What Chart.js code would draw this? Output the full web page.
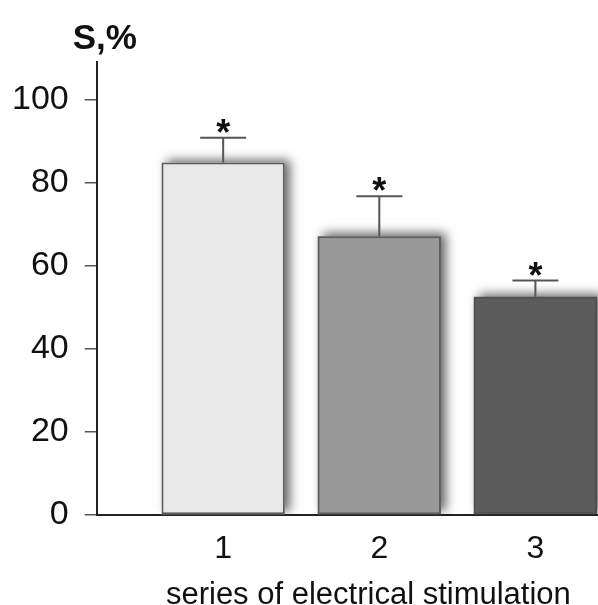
<!DOCTYPE html>
<html>
<head>
<meta charset="utf-8">
<script src="https://cdn.jsdelivr.net/npm/chart.js@4.4.1/dist/chart.umd.min.js"></script>
<style>
  html, body { margin: 0; padding: 0; background: #fff; }
  #wrap { width: 598px; height: 605px; overflow: hidden; position: relative; }
  #box { width: 640px; height: 620px; }
</style>
</head>
<body>
<div id="wrap"><div id="box"><canvas id="c"></canvas></div></div>
<script>
// data
var categories = ["1", "2", "3"];
var positions = [1, 2, 3];
var means = [84.8, 67.1, 52.5];
var errTops = [90.8, 76.7, 56.4];
var marks = ["*", "*", "*"];
var yTicks = [0, 20, 40, 60, 80, 100];

var fillColors = ["#e8e8e8", "#999999", "#5b5b5b"];
var edgeColors = ["#5a5a5a", "#5e5e5e", "#505050"];
var FONT = "'Liberation Sans', Arial, Helvetica, sans-serif";

// soft drop shadow behind each bar (the bar element clips its own shadow)
var shadowPlugin = {
    id: "barShadow",
    beforeDatasetsDraw: function (chart) {
        var ctx = chart.ctx;
        var area = chart.chartArea;
        ctx.save();
        ctx.beginPath();
        ctx.rect(area.left, area.top - 20, area.right - area.left, area.bottom - area.top + 20);
        ctx.clip();
        ctx.shadowColor = "rgba(0,0,0,0.6)";
        ctx.shadowBlur = 10;
        ctx.shadowOffsetX = 5;
        ctx.shadowOffsetY = -3;
        chart.getDatasetMeta(0).data.forEach(function (bar, i) {
            var p = bar.getProps(["x", "y", "base", "width"], true);
            ctx.fillStyle = fillColors[i];
            ctx.fillRect(p.x - p.width / 2, p.y, p.width, p.base - p.y);
        });
        ctx.restore();
    }
};

var errorPlugin = {
    id: "errorBars",
    afterDatasetsDraw: function (chart) {
        var ctx = chart.ctx;
        var xs = chart.scales.x, ys = chart.scales.y;
        ctx.save();
        ctx.strokeStyle = "#555";
        ctx.lineWidth = 2;
        ctx.fillStyle = "#111";
        ctx.font = "bold 36px " + FONT;
        ctx.textAlign = "center";
        ctx.textBaseline = "alphabetic";
        positions.forEach(function (p, i) {
            var x = xs.getPixelForValue(p);
            var y0 = ys.getPixelForValue(means[i]);
            var y1 = ys.getPixelForValue(errTops[i]);
            ctx.beginPath();
            ctx.moveTo(x, y0);
            ctx.lineTo(x, y1);
            ctx.moveTo(x - 23, y1);
            ctx.lineTo(x + 23, y1);
            ctx.stroke();
            ctx.fillText(marks[i], x, y1 + 7);
        });
        ctx.restore();
    }
};

var unitPlugin = {
    id: "unitLabel",
    afterDraw: function (chart) {
        var ctx = chart.ctx;
        ctx.save();
        ctx.fillStyle = "#111";
        ctx.font = "bold 35px " + FONT;
        ctx.textAlign = "center";
        ctx.textBaseline = "alphabetic";
        ctx.fillText("S,%", chart.chartArea.left + 8, 49);
        ctx.restore();
    }
};

new Chart(document.getElementById("c"), {
    type: "bar",
    data: {
        datasets: [{
            label: "S",
            data: positions.map(function (p, i) { return {x: p, y: means[i]}; }),
            backgroundColor: fillColors,
            borderColor: edgeColors,
            borderWidth: 2,
            borderSkipped: false,
            barPercentage: 0.79,
            categoryPercentage: 1
        }]
    },
    options: {
        responsive: true,
        maintainAspectRatio: false,
        animation: false,
        layout: { padding: { top: 62, left: -4, right: 0, bottom: 9 } },
        plugins: {
            legend: { display: false },
            tooltip: { enabled: false }
        },
        scales: {
            x: {
                type: "linear",
                offset: false,
                min: 0.19,
                max: 3.67,
                afterBuildTicks: function (scale) {
                    scale.ticks = positions.map(function (v) { return {value: v}; });
                },
                ticks: {
                    color: "#111",
                    padding: 18,
                    maxRotation: 0,
                    font: { family: FONT, size: 32, lineHeight: 1 },
                    callback: function (v) { return categories[positions.indexOf(v)]; }
                },
                grid: { display: false, drawTicks: false, offset: false },
                border: { display: true, color: "#222", width: 2 },
                title: {
                    display: true,
                    text: "series of electrical stimulation",
                    color: "#111",
                    padding: { top: -3, bottom: 0 },
                    font: { family: FONT, size: 31, lineHeight: 1 }
                }
            },
            y: {
                min: 0,
                max: 109,
                afterBuildTicks: function (scale) {
                    scale.ticks = yTicks.map(function (v) { return {value: v}; });
                },
                ticks: {
                    color: "#111",
                    padding: 16,
                    font: { family: FONT, size: 34, lineHeight: 1 }
                },
                grid: {
                    display: true,
                    drawOnChartArea: false,
                    drawTicks: true,
                    tickLength: 12,
                    color: "#555",
                    lineWidth: 1.5
                },
                border: { display: true, color: "#222", width: 2 }
            }
        }
    },
    plugins: [shadowPlugin, errorPlugin, unitPlugin]
});
</script>
</body>
</html>
